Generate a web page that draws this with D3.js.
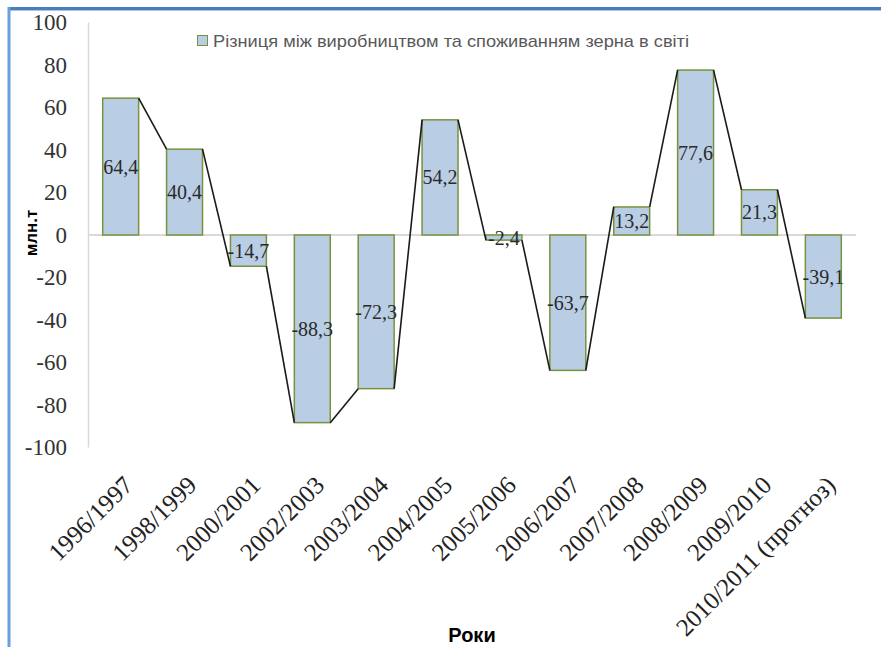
<!DOCTYPE html>
<html>
<head>
<meta charset="utf-8">
<script src="https://cdn.jsdelivr.net/npm/d3@7"></script>
<style>
  html, body { margin: 0; padding: 0; background: #fff; }
  svg { display: block; }
</style>
</head>
<body>
<svg id="chart" width="881" height="647"></svg>
<script>
const categories = ["1996/1997", "1998/1999", "2000/2001", "2002/2003", "2003/2004", "2004/2005",
  "2005/2006", "2006/2007", "2007/2008", "2008/2009", "2009/2010", "2010/2011 (прогноз)"];
const values = [64.4, 40.4, -14.7, -88.3, -72.3, 54.2, -2.4, -63.7, 13.2, 77.6, 21.3, -39.1];
const yTicks = [-100, -80, -60, -40, -20, 0, 20, 40, 60, 80, 100];
const seriesName = "Різниця між виробництвом та споживанням зерна в світі";
const yTitle = "млн.т";
const xTitle = "Роки";

const SERIF = '"Liberation Serif", "Times New Roman", serif';
const SANS = '"Liberation Sans", Arial, sans-serif';

const svg = d3.select("#chart");

// frame
svg.append("line").attr("x1", 9).attr("x2", 881).attr("y1", 8.5).attr("y2", 8.5)
  .attr("stroke", "#4a7ebb").attr("stroke-width", 3);
svg.append("line").attr("x1", 9).attr("x2", 881).attr("y1", 10.5).attr("y2", 10.5)
  .attr("stroke", "#a9c4e8").attr("stroke-width", 1);
svg.append("line").attr("x1", 9).attr("x2", 9).attr("y1", 7).attr("y2", 647)
  .attr("stroke", "#6b9ede").attr("stroke-width", 3);

const x = d3.scaleBand().domain(categories).range([88, 856])
  .paddingInner(0.4375).paddingOuter(0.23);
const y = d3.scaleLinear().domain([-100, 100]).range([447.5, 22.5]);

// axes lines
svg.append("line").attr("x1", 88.5).attr("x2", 88.5).attr("y1", y(100)).attr("y2", y(-100))
  .attr("stroke", "#d9d9d9").attr("stroke-width", 1.5);
svg.append("line").attr("x1", 88).attr("x2", 856).attr("y1", y(0)).attr("y2", y(0))
  .attr("stroke", "#d9d9d9").attr("stroke-width", 2);

// y tick labels
svg.append("g").selectAll("text").data(yTicks).join("text")
  .attr("x", 67).attr("y", d => y(d)).attr("dy", "0.34em")
  .attr("text-anchor", "end")
  .attr("font-family", SERIF).attr("font-size", 23).attr("fill", "#333")
  .text(d => String(d));

// x tick labels
svg.append("g").selectAll("text").data(categories).join("text")
  .attr("transform", d => `translate(${x(d) + x.bandwidth() / 2 + 2},475) rotate(-45)`)
  .attr("text-anchor", "end").attr("dy", "0.66em")
  .attr("font-family", SERIF).attr("font-size", 25).attr("fill", "#222")
  .text(d => d);

// bars
svg.append("g").selectAll("rect").data(values).join("rect")
  .attr("x", (d, i) => x(categories[i]))
  .attr("width", x.bandwidth())
  .attr("y", d => y(Math.max(0, d)))
  .attr("height", d => Math.abs(y(d) - y(0)))
  .attr("fill", "#b9cde5").attr("stroke", "#77933c").attr("stroke-width", 1.5);

// series lines
const pts = [];
values.forEach((v, i) => {
  if (i > 0) pts.push([x(categories[i]), y(v)]);
  if (i < values.length - 1) pts.push([x(categories[i]) + x.bandwidth(), y(v)]);
});
const segs = [];
for (let i = 0; i < pts.length; i += 2) segs.push([pts[i], pts[i + 1]]);
svg.append("g").selectAll("path").data(segs).join("path")
  .attr("d", d => d3.line()(d))
  .attr("stroke", "#1a1a1a").attr("stroke-width", 1.6).attr("fill", "none");

// value labels
svg.append("g").selectAll("text").data(values).join("text")
  .attr("x", (d, i) => x(categories[i]) + x.bandwidth() / 2)
  .attr("y", d => (y(d) + y(0)) / 2)
  .attr("dy", "0.35em")
  .attr("text-anchor", "middle")
  .attr("font-family", SERIF).attr("font-size", 20).attr("fill", "#2a2a2a")
  .text(d => d.toFixed(1).replace(".", ","));

// legend
svg.append("rect").attr("x", 197.5).attr("y", 35.5).attr("width", 10).attr("height", 10)
  .attr("fill", "#b9cde5").attr("stroke", "#77933c").attr("stroke-width", 1);
svg.append("text").attr("x", 213).attr("y", 46.5)
  .attr("font-family", SANS).attr("font-size", 17)
  .attr("fill", "#595959").attr("textLength", 476).attr("lengthAdjust", "spacingAndGlyphs")
  .text(seriesName);

// axis titles
svg.append("text").attr("transform", "translate(37,233) rotate(-90)")
  .attr("text-anchor", "middle")
  .attr("font-family", SANS).attr("font-size", 17).attr("font-weight", "bold")
  .attr("fill", "#000").text(yTitle);
svg.append("text").attr("x", 472).attr("y", 642).attr("text-anchor", "middle")
  .attr("font-family", SANS).attr("font-size", 20).attr("font-weight", "bold")
  .attr("fill", "#000").text(xTitle);
</script>
</body>
</html>
